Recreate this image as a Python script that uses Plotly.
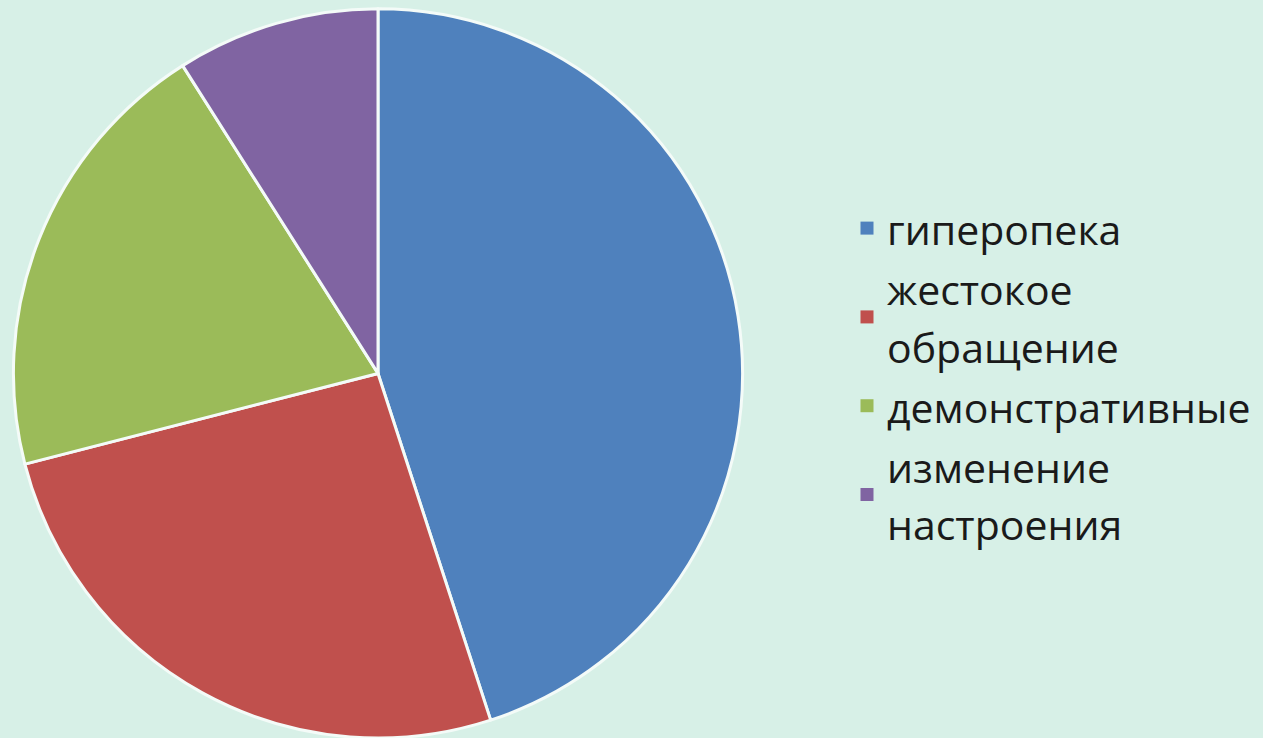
import plotly.graph_objects as go

categories = ["гиперопека", "жестокое<br>обращение", "демонстративные", "изменение<br>настроения"]
values = [45, 26, 20, 9]
colors = ["#4F81BD", "#C0504D", "#9BBB59", "#8064A2"]

W, H = 1263, 738
BG = "#D7F0E7"

fig = go.Figure()
fig.add_trace(
    go.Pie(
        labels=categories,
        values=values,
        sort=False,
        direction="clockwise",
        rotation=0,
        textinfo="none",
        hoverinfo="label+percent",
        showlegend=False,
        marker=dict(colors=colors, line=dict(color="#F4FBF8", width=3)),
        domain=dict(x=[(378 - 365) / W, (378 + 365) / W], y=[0.0, 0.988]),
    )
)

# legend entries (square swatches), one per category
span = "<span style='font-size:41px'>"
for name, col in zip(categories, colors):
    label = span + name.replace("<br>", "</span><br>" + span) + "</span>"
    fig.add_trace(
        go.Scatter(
            x=[None], y=[None], mode="markers", name=label,
            marker=dict(symbol="square", size=13, color=col, line=dict(width=0)),
            hoverinfo="skip",
        )
    )

fig.update_layout(
    width=W,
    height=H,
    margin=dict(l=0, r=0, t=0, b=0, autoexpand=False),
    paper_bgcolor=BG,
    plot_bgcolor=BG,
    showlegend=True,
    xaxis=dict(visible=False),
    yaxis=dict(visible=False),
    legend=dict(
        x=847 / W,
        xanchor="left",
        y=0.4905,
        yanchor="middle",
        font=dict(family="Open Sans", size=44, color="#1A1A1A"),
        bgcolor="rgba(0,0,0,0)",
        tracegroupgap=0,
    ),
)

fig.write_html("out.html")
